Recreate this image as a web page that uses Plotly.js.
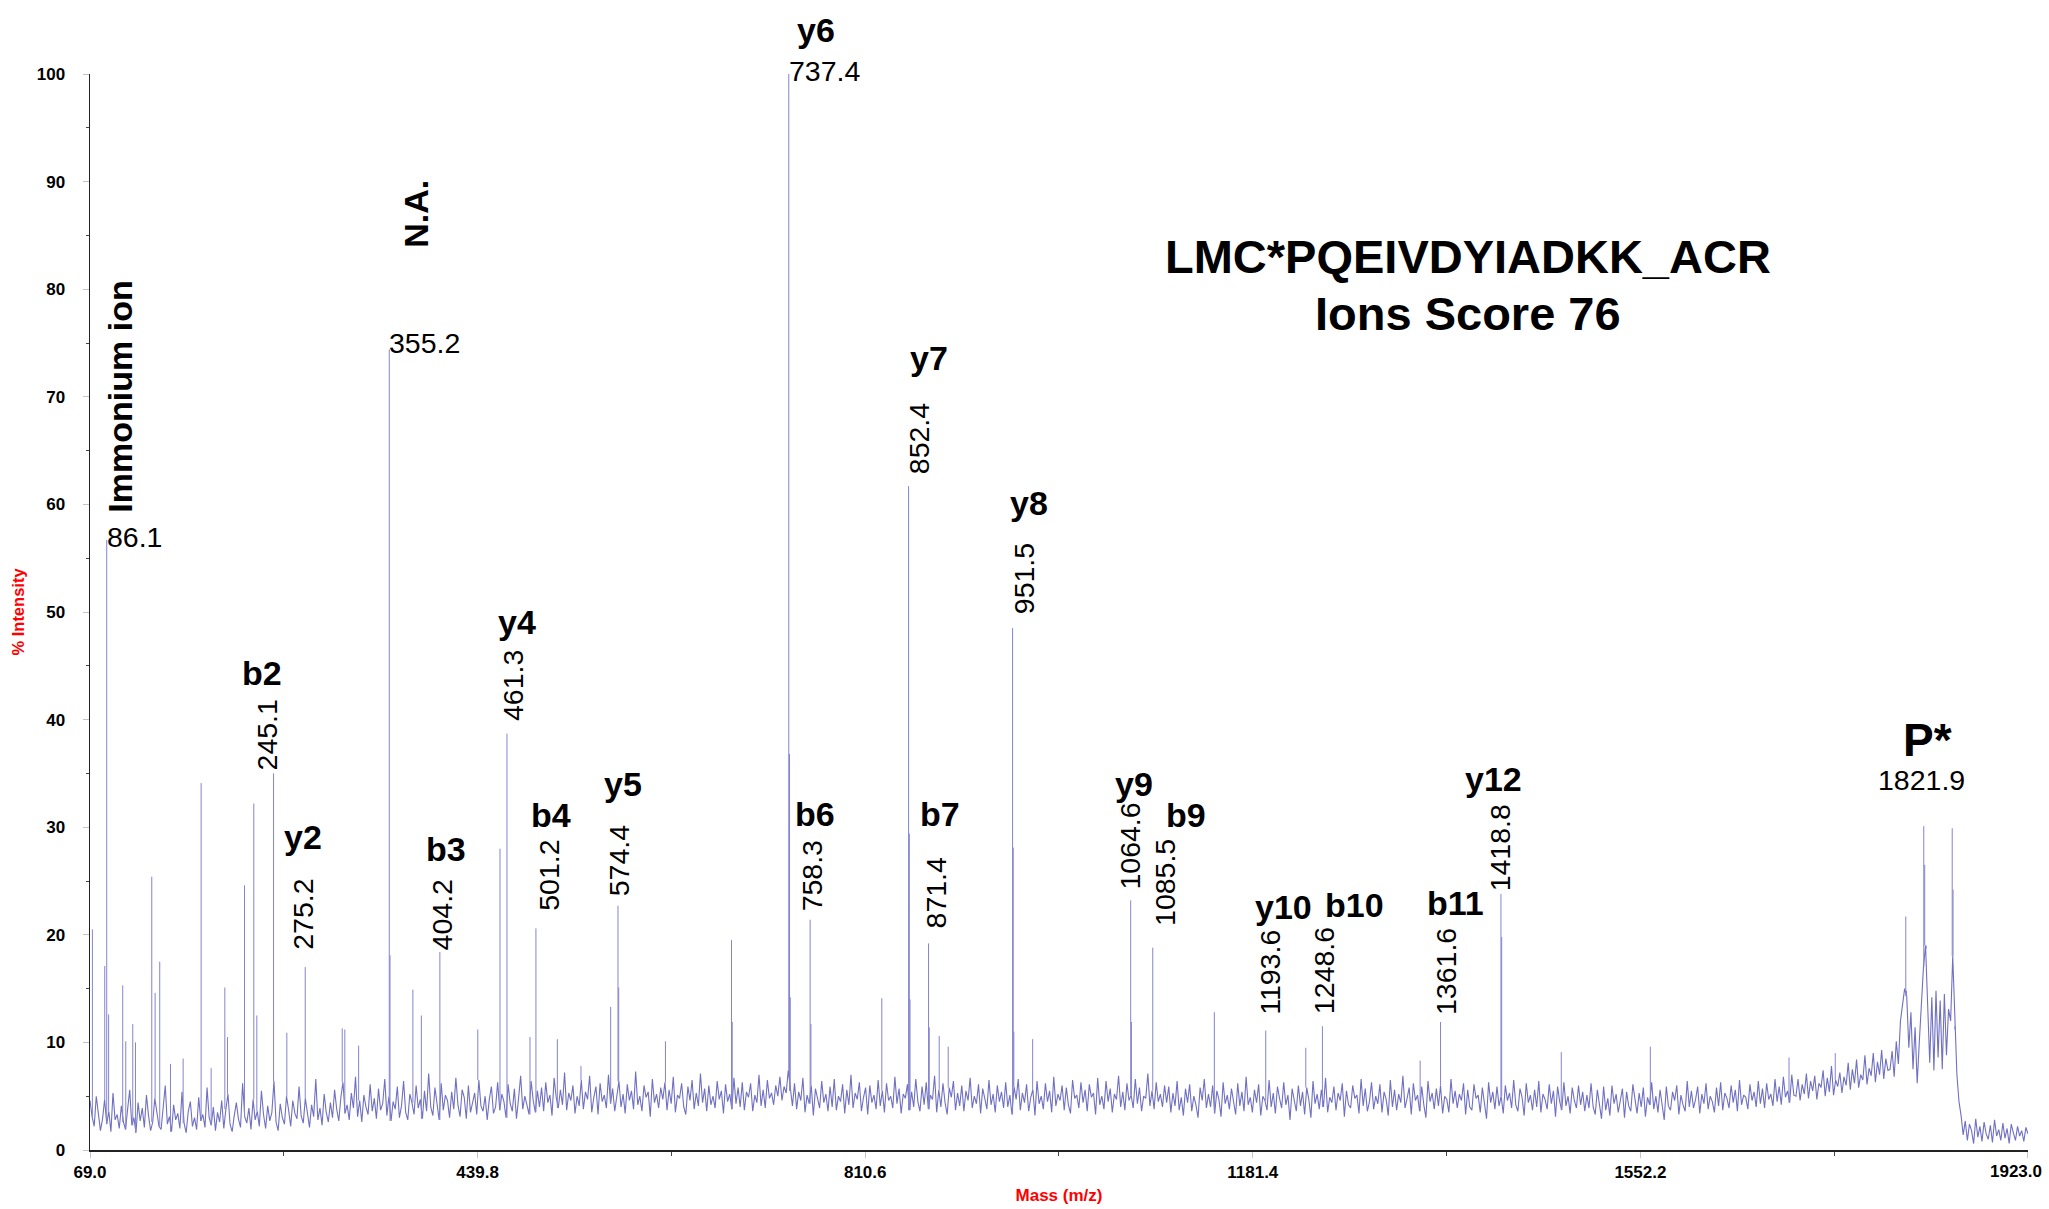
<!DOCTYPE html>
<html><head><meta charset="utf-8">
<script src="https://cdn.plot.ly/plotly-3.0.1.min.js"></script>
<style>html,body{margin:0;padding:0;background:#fff}#chart{width:2049px;height:1209px}</style>
</head><body><div id="chart"></div>
<script>
// ---------- DATA ----------
// baseline noise of the spectrum, sampled every 2 Da starting at m/z 69
const noiseStart = 69;
const noiseStep = 2;
const noise = [
4.6,3.1,2.2,5.0,3.4,1.8,2.9,4.7,2.4,3.6,1.7,5.3,2.8,3.3,2.0,4.1,2.6,1.9,3.8,5.6,
2.3,3.0,1.6,4.4,2.7,3.9,2.1,5.1,3.2,1.8,2.6,4.8,3.5,2.2,1.9,3.7,6.0,2.4,3.1,1.7,
4.2,2.8,3.4,2.0,5.4,2.5,1.6,3.6,4.5,2.2,3.0,1.9,4.9,2.7,3.3,2.1,5.8,3.0,2.3,4.0,
1.8,3.5,2.6,4.6,2.0,3.8,5.2,2.4,1.7,3.2,4.4,2.9,2.1,6.2,3.1,2.5,3.9,1.9,4.7,2.8,
3.6,2.2,5.5,3.3,2.0,4.1,2.7,3.5,6.4,2.6,1.8,4.3,3.0,2.4,5.0,3.7,2.2,4.6,3.4,2.9,
5.9,3.2,2.5,4.8,3.6,2.1,4.2,3.1,6.6,2.8,3.9,2.3,5.2,3.5,2.6,4.4,
3.0,5.6,3.8,2.7,4.9,6.3,3.4,4.2,2.8,5.3,3.9,6.8,3.1,4.6,2.6,5.1,4.0,3.3,6.1,3.6,
4.8,2.9,5.7,3.7,4.3,6.6,3.2,5.0,2.7,4.5,3.8,5.9,3.0,4.1,6.4,3.5,2.8,5.2,4.4,3.3,
6.0,3.9,4.7,2.9,5.5,3.6,7.1,4.0,3.2,5.8,4.3,2.8,6.2,3.7,5.1,4.6,3.0,5.4,3.8,6.7,
4.2,3.1,5.6,4.9,2.9,6.0,3.5,4.4,5.3,3.3,6.5,4.1,3.6,5.0,2.8,4.7,5.9,3.4,4.0,6.3,
3.7,5.2,4.5,3.0,6.1,4.3,3.6,5.7,2.9,4.8,6.9,3.8,5.0,4.2,3.3,6.4,4.6,3.5,5.5,4.0,
5.8,3.6,6.3,4.4,5.1,3.2,6.7,4.9,3.9,5.6,4.2,7.2,3.7,5.3,4.6,6.0,3.4,5.0,4.1,6.5,
3.8,5.4,4.7,6.9,3.5,4.9,5.9,3.3,6.2,4.5,5.1,3.9,7.0,4.3,5.7,3.6,4.8,6.4,4.0,5.2,
3.4,6.1,4.6,5.5,3.8,7.3,4.2,5.0,3.6,6.0,4.9,5.4,3.1,6.6,4.4,5.2,3.9,5.8,4.7,6.3,
3.7,5.6,4.3,6.8,3.5,5.1,4.8,6.2,4.0,3.3,5.9,4.6,6.5,3.8,5.3,4.1,7.1,4.4,5.7,3.6,
6.0,4.2,5.0,3.9,6.4,4.7,5.5,3.4,6.1,4.5,5.2,3.8,6.7,4.3,5.8,4.0,6.3,3.7,5.4,4.9,
6.2,3.6,5.1,4.4,7.0,4.1,5.6,3.9,6.5,4.8,5.3,4.2,6.0,5.0,6.8,4.6,5.9,5.3,7.4,5.5,
4.1,6.2,3.8,5.4,4.6,6.7,3.5,5.1,4.3,6.0,3.2,5.7,4.8,3.9,6.4,4.4,5.2,3.6,5.9,4.0,
6.6,3.7,5.0,4.5,6.1,3.4,5.6,4.2,7.0,3.9,5.3,4.7,6.3,3.6,4.9,5.8,3.3,6.0,4.4,5.1,
3.8,6.5,4.1,5.5,3.5,6.2,4.6,5.0,3.9,6.8,4.3,5.7,3.4,5.2,4.8,6.1,3.7,5.4,4.0,6.6,
4.5,3.6,5.9,4.2,6.3,3.8,5.1,4.7,6.9,3.5,5.6,4.0,6.2,4.4,3.3,5.8,4.9,6.4,3.7,5.3,
4.1,6.0,3.6,5.5,4.6,6.7,3.9,5.0,4.3,6.1,3.4,5.7,4.8,3.8,6.5,4.2,5.2,3.5,6.0,4.5,
5.4,3.9,6.3,4.0,5.1,3.3,5.9,4.7,6.6,3.7,5.3,4.4,6.1,3.6,4.9,5.6,3.2,6.4,4.3,5.0,
3.8,6.2,4.5,5.5,3.5,6.8,4.1,5.2,4.6,6.0,3.7,5.8,4.2,3.4,6.5,4.8,5.1,3.9,6.3,4.4,
5.6,3.6,6.1,4.9,5.3,3.3,6.7,4.2,5.0,3.8,6.4,4.5,5.7,3.5,5.2,4.7,6.9,4.0,5.4,3.7,
6.2,4.6,5.1,3.9,6.6,4.3,5.8,3.6,5.0,4.8,7.1,4.1,5.5,3.8,6.3,4.5,5.2,4.0,6.0,4.4,
5.9,3.5,5.3,4.1,6.4,3.7,4.9,3.2,5.7,4.4,6.1,3.6,5.0,4.2,3.0,5.8,4.6,6.6,3.9,5.2,
4.0,6.0,3.4,5.5,4.7,3.1,6.3,4.3,5.1,3.8,5.7,4.5,3.3,6.2,4.1,5.4,3.6,6.8,4.2,4.9,
3.5,5.6,4.4,6.1,3.2,5.0,4.6,3.7,6.5,4.0,5.3,3.4,5.9,4.8,3.9,6.3,4.2,5.1,2.8,5.7,
4.5,3.6,6.0,4.1,5.4,3.3,5.8,4.7,3.0,6.4,4.3,5.2,3.8,5.6,4.0,6.7,3.5,4.9,4.4,5.9,
3.7,5.3,4.6,6.2,3.1,5.5,4.2,3.9,6.0,4.8,5.1,3.4,6.6,4.1,5.7,3.6,4.5,6.3,3.8,5.0,
4.3,6.1,3.5,5.4,4.7,3.2,6.5,4.0,5.6,3.7,5.2,4.4,6.9,3.9,4.8,5.8,3.3,6.2,4.6,5.1,
3.6,5.9,4.2,3.0,6.4,4.5,5.3,3.8,5.7,4.1,6.0,3.4,5.0,4.7,3.5,6.6,4.3,5.5,3.9,5.2,
4.6,6.2,3.3,5.6,4.0,3.7,6.1,4.8,5.1,3.5,5.8,4.3,2.9,6.3,4.4,5.4,3.8,5.9,4.1,5.0,
3.4,6.0,4.6,5.3,3.9,6.5,4.2,3.6,5.7,4.9,3.2,6.2,4.4,5.1,3.7,5.6,4.0,6.4,3.5,5.2,
4.7,3.8,6.1,4.3,5.5,3.1,5.9,4.5,3.7,6.3,4.1,5.0,3.4,5.8,4.6,3.9,6.0,4.2,5.4,3.6,
5.1,3.9,6.2,4.0,3.3,5.6,4.4,2.9,5.9,3.7,4.8,3.2,6.0,4.3,5.2,3.5,4.6,5.7,3.0,5.4,
4.1,3.6,6.1,4.5,3.4,5.3,4.0,5.8,3.1,4.9,4.2,6.3,3.8,5.0,3.5,5.6,4.4,2.8,5.9,4.1,
3.7,5.4,4.6,6.0,3.3,5.1,4.2,3.6,6.4,4.0,5.5,3.9,4.7,5.9,3.4,5.2,4.3,6.2,3.8,5.0,
4.5,3.5,5.8,4.1,6.3,3.7,5.3,4.8,3.9,6.0,4.4,5.6,3.6,6.5,4.2,5.1,4.9,3.8,6.1,4.6,
5.4,4.0,6.4,4.3,5.7,3.9,6.2,4.7,5.2,4.1,6.6,4.5,5.9,4.2,6.8,4.9,5.5,4.4,7.0,5.1,
5.0,6.6,4.6,6.1,5.2,7.1,4.8,6.4,5.5,6.9,4.7,6.2,5.8,7.4,5.0,6.7,5.4,7.8,5.1,6.5,
5.9,7.2,5.3,6.8,6.0,8.1,5.6,7.5,6.2,8.4,5.8,7.0,6.5,8.8,6.1,7.6,6.9,9.0,6.3,8.2,
7.0,9.3,6.6,8.5,7.4,
7.5,9.2,6.8,10.1,8.0,12.0,13.5,15.0,14.3,9.5,12.8,7.5,11.4,6.2,10.0,13.6,17.0,19.0,12.5,8.1,
14.2,7.4,14.8,8.6,13.9,7.5,14.5,8.8,13.1,12.0,18.0,11.5,7.0,4.5,
3.2,1.4,2.7,0.9,2.4,1.8,0.6,2.9,1.2,2.2,0.8,2.6,1.5,1.0,2.3,0.7,2.8,1.3,1.9,0.9,
2.5,1.1,2.0,0.6,2.4,1.6,0.9,2.2,1.3,1.8,0.8,2.1,1.5
];

// unlabelled spikes (m/z, % intensity)
const peakMz = [71.3,83.1,86.8,100.3,103.2,109.9,112.5,128.1,131.3,135.7,146.0,158.1,175.3,184.9,198.0,200.5,216.8,225.7,228.6,257.3,
  310.3,312.8,326.0,356.0,377.9,386.0,440.0,461.2,489.9,516.1,538.7,567.1,574.8,619.5,682.7,683.4,738.2,738.9,758.7,826.5,
  852.8,853.5,871.9,881.4,890.0,952.2,952.8,970.8,1065.3,1144.6,1232.1,1341.5,1419.5,1476.5,1561.7,1694.4,1738.6,1806.1,1806.8,1824.2,
  1825.6,1850.5,1851.3,1853.0];
const peakInt = [20.5,17.1,12.6,15.3,10.1,11.7,10.0,25.4,14.6,17.5,8.0,8.5,34.1,7.6,15.1,10.5,24.6,32.2,12.5,10.9,
  11.3,11.2,9.7,18.1,14.9,12.5,11.2,28.0,10.5,10.3,7.8,13.3,15.1,10.1,19.5,11.9,36.8,14.2,11.7,14.1,
  29.4,14.0,11.4,10.6,9.6,28.1,11.0,10.3,11.9,12.8,9.5,8.3,19.8,9.1,9.6,8.6,9.0,21.7,14.8,26.5,
  18.7,29.9,24.2,11.2];

// annotated fragment ions
const ionMz  = [85.0,244.6,274.9,355.3,403.7,467.9,495.6,574.1,737.5,757.9,852.1,871.2,951.6,1064.6,1085.7,1193.8,1248.0,1361.0,1418.8,1823.3];
const ionInt = [56.7,35.0,17.0,74.4,18.4,38.7,20.6,22.7,100,21.4,61.7,19.2,48.5,23.2,18.8,11.1,11.5,11.9,23.8,30.1];
const massText = ['86.1','245.1','275.2','355.2','404.2','461.3','501.2','574.4','737.4','758.3','852.4','871.4','951.5','1064.6','1085.5','1193.6','1248.6','1361.6','1418.8','1821.9'];
const ionText  = ['Immonium ion','b2','y2','N.A.','b3','y4','b4','y5','y6','b6','y7','b7','y8','y9','b9','y10','b10','b11','y12','P*'];

const xTickStart = 69.0, xTickStep = 370.8, xTickCount = 6;
const titleLines = ['LMC*PQEIVDYIADKK_ACR', 'Ions Score 76'];
const xTitle = 'Mass (m/z)', yTitle = '% Intensity';

// ---------- LABEL PLACEMENT (pixel offsets) ----------
const massPlace = [['left',-2,3],['rot',-7,1],['rot',-3,15],['left',-2,6],['rot',2,0],['rot',6,11],['rot',13,16],['rot',1,8],
  ['left',-2,3],['rot',2,6],['rot',10,10],['rot',7,13],['rot',11,12],['rot',-1,9],['rot',12,20],['rot',4,14],['rot',1,10],
  ['rot',6,5],['rot',-1,1],['center',-2,46]];
const ionPlace = [['rot',13,25],['h',-12,100],['h',-2,130],['rot',27,100],['h',6,103],['h',10,112],['h',15,113],['h',5,122],
  ['h',27,44],['h',5,106],['h',20,128],['h',11,129],['h',16,125],['h',3,116],['h',33,133],['h',18,124],['h',32,121],
  ['h',15,119],['h',-7,115],['big',4,86]];

// ---------- BUILD ----------
const FONT = 'Liberation Sans, Arial, Helvetica, sans-serif';
const LINE = 'rgb(112,112,194)';
const STICK = 'rgb(132,132,208)';

const nx = noise.map((_, i) => noiseStart + i * noiseStep);
function baseAt(m) {
  let i = Math.round((m - noiseStart) / noiseStep);
  i = Math.max(0, Math.min(noise.length - 1, i));
  return noise[i];
}
const sx = [], sy = [];
function addStick(m, h) { sx.push(m, m, null); sy.push(baseAt(m), h, null); }
peakMz.forEach((m, i) => addStick(m, peakInt[i]));
ionMz.forEach((m, i) => addStick(m, ionInt[i]));

const traces = [
  {x: nx, y: noise, type: 'scatter', mode: 'lines', line: {color: LINE, width: 1.1}, hoverinfo: 'skip'},
  {x: sx, y: sy, type: 'scatter', mode: 'lines', line: {color: STICK, width: 1}, hoverinfo: 'skip'}
];

const ann = [];
ionMz.forEach((m, i) => {
  const h = ionInt[i];
  const mp = massPlace[i];
  const mf = {family: FONT, size: 28.5, color: '#000'};
  if (mp[0] === 'rot') {
    ann.push({x: m, y: h, xref: 'x', yref: 'y', text: massText[i], textangle: -90, showarrow: false,
      xanchor: 'center', yanchor: 'bottom', xshift: mp[1], yshift: mp[2], font: mf});
  } else {
    ann.push({x: m, y: h, xref: 'x', yref: 'y', text: massText[i], showarrow: false,
      xanchor: mp[0], yanchor: 'middle', xshift: mp[1], yshift: mp[2], font: mf});
  }
  const ip = ionPlace[i];
  const f = {family: FONT, size: ip[0] === 'big' ? 46 : 34, color: '#000'};
  const t = '<b>' + ionText[i] + '</b>';
  if (ip[0] === 'rot') {
    ann.push({x: m, y: h, xref: 'x', yref: 'y', text: t, textangle: -90, showarrow: false,
      xanchor: 'center', yanchor: 'bottom', xshift: ip[1], yshift: ip[2], font: f});
  } else {
    ann.push({x: m, y: h, xref: 'x', yref: 'y', text: t, showarrow: false,
      xanchor: 'center', yanchor: 'middle', xshift: ip[1], yshift: ip[2], font: f});
  }
});
ann.push({xref: 'paper', yref: 'paper', x: 0.7108, y: 0.830, text: '<b>' + titleLines[0] + '</b>', showarrow: false,
  xanchor: 'center', yanchor: 'middle', font: {family: FONT, size: 47, color: '#000'}});
ann.push({xref: 'paper', yref: 'paper', x: 0.7108, y: 0.7773, text: '<b>' + titleLines[1] + '</b>', showarrow: false,
  xanchor: 'center', yanchor: 'middle', font: {family: FONT, size: 47, color: '#000'}});

const xTickVals = [], xTickText = [], xMinorVals = [];
for (let k = 0; k < xTickCount; k++) {
  const v = Math.round((xTickStart + k * xTickStep) * 10) / 10;
  xTickVals.push(v);
  xTickText.push(k === xTickCount - 1 ? '' : '<b>' + v.toFixed(1) + '</b>');
  if (k < xTickCount - 1) xMinorVals.push(Math.round((xTickStart + (k + 0.5) * xTickStep) * 10) / 10);
}
const xMax = xTickVals[xTickVals.length - 1];
// the last axis label is kept inside the picture (right-aligned near its tick), as in the reference
ann.push({xref: 'x', yref: 'paper', x: xMax, y: 0, text: '<b>' + xMax.toFixed(1) + '</b>', showarrow: false,
  xanchor: 'right', yanchor: 'middle', xshift: 16, yshift: -21, font: {family: FONT, size: 17, color: '#000'}});

const tickFont = {family: FONT, size: 17, color: '#000', weight: 'bold'};
const layout = {
  width: 2049, height: 1209,
  margin: {l: 90, r: 21, t: 74, b: 59},
  paper_bgcolor: '#fff', plot_bgcolor: '#fff',
  showlegend: false,
  xaxis: {
    range: [xTickStart, xMax + 0.01], tickmode: 'array', tickvals: xTickVals, ticktext: xTickText,
    showgrid: false, zeroline: false, showline: true, linecolor: '#222', linewidth: 1.5,
    ticks: 'outside', ticklen: 6, tickcolor: '#c4c4c4', tickwidth: 1, tickfont: tickFont,
    minor: {tickmode: 'array', tickvals: xMinorVals, ticks: 'outside', ticklen: 4, tickcolor: '#444', tickwidth: 1},
    title: {text: '<b>' + xTitle + '</b>', font: {family: FONT, size: 17, color: '#ff0000'}, standoff: 8}
  },
  yaxis: {
    range: [0, 100], tick0: 0, dtick: 10,
    showgrid: false, zeroline: false, showline: true, linecolor: '#222', linewidth: 1.5,
    ticks: 'outside', ticklen: 6, tickcolor: '#c4c4c4', tickwidth: 1, tickfont: tickFont,
    ticklabelstandoff: 14,
    minor: {dtick: 5, ticks: 'outside', ticklen: 3, tickcolor: '#444', tickwidth: 1},
    title: {text: '<b>' + yTitle + '</b>', font: {family: FONT, size: 16.5, color: '#ff0000'}, standoff: 8}
  },
  annotations: ann
};
Plotly.newPlot('chart', traces, layout, {displayModeBar: false, staticPlot: true});
</script>
</body></html>
